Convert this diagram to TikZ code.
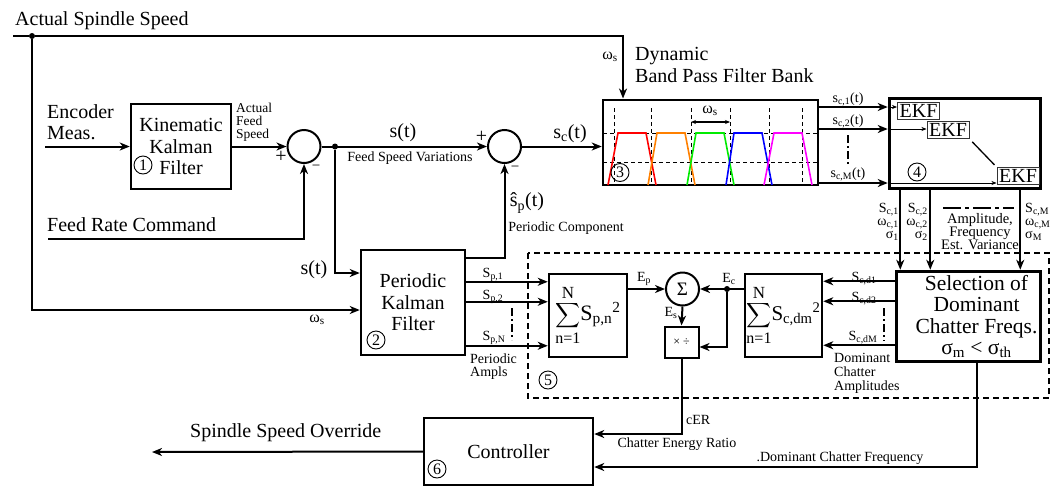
\documentclass[tikz,border=0pt]{standalone}
\usepackage{amsmath}
\usepackage{fontspec}
\setmainfont{Liberation Serif}
\usetikzlibrary{arrows.meta,calc}
\newcommand{\fsz}[1]{\fontsize{#1}{#1}\selectfont}
\newcommand{\lsz}[2]{\fontsize{#1}{#2}\selectfont}
\definecolor{bporange}{RGB}{255,128,0}
\definecolor{bpgreen}{RGB}{0,235,0}
\definecolor{bpmag}{RGB}{255,0,255}
\tikzset{
  ln/.style={line width=2pt},
  arr/.style={line width=2pt,-{Stealth[length=10pt,width=8pt,inset=3pt]}},
  tarr/.style={line width=0.7pt,-{Stealth[length=5pt,width=4pt,inset=1.5pt]}},
  blk/.style={draw,line width=2.5pt,inner sep=0pt,align=center},
  hblk/.style={draw,line width=3.5pt,inner sep=0pt,align=center},
  ekfs/.style={draw=black!80,line width=1pt,inner sep=0pt,minimum width=42pt,minimum height=17pt,font=\fsz{20}},
  sumc/.style={draw,circle,line width=2pt,minimum size=33pt,inner sep=0pt},
  cnum/.style={draw,circle,line width=0.9pt,minimum size=18pt,inner sep=0pt,font=\fsz{16}},
  big/.style={font=\lsz{20}{21.5},inner sep=0pt},
  sml/.style={font=\lsz{14}{13},inner sep=0pt},
  wsl/.style={font=\fsz{16},inner sep=0pt},
  dd/.style={line width=2pt,dash pattern=on 8pt off 3pt on 2pt off 3pt},
  ddleg/.style={line width=2pt,dash pattern=on 18pt off 4pt on 4pt off 4pt},
  fb/.style={line width=1.6pt},
  gridl/.style={line width=0.8pt,dash pattern=on 4pt off 3pt},
  jdot/.style={circle,fill,inner sep=0pt,minimum size=6pt},
}
\newcommand{\sumlim}{\fsz{17}$\displaystyle\sum_{\mbox{\fsz{16}n=1}}^{\mbox{\fsz{17}N}}$}
\begin{document}
\begin{tikzpicture}[x=1pt,y=-1pt]
\useasboundingbox (0,0) rectangle (1057,488);

% ---------- blocks ----------
\node[blk,minimum width=100pt,minimum height=85pt,font=\lsz{20}{21.5}] (kkf) at (181,146.5) {Kinematic\\Kalman\\Filter};
\node[cnum] (c1) at (143,165) {1};
\node[sumc] (sum1) at (304,146.5) {};
\node[sumc] (sum2) at (504.5,146.5) {};
\node[blk,minimum width=215pt,minimum height=85pt] (fbank) at (710.5,142.25) {};
\node[hblk,minimum width=151pt,minimum height=90pt] (ekfbox) at (965,143.5) {};
\node[ekfs] (ekf1) at (918.5,110.5) {EKF};
\node[ekfs] (ekf2) at (948,130) {EKF};
\node[ekfs] (ekf3) at (1018,176) {EKF};
\node[cnum] (c4) at (917,172) {4};
\node[blk,minimum width=104pt,minimum height=105pt,font=\lsz{20}{21.5}] (pkf) at (413,302.5) {Periodic\\Kalman\\Filter};
\node[cnum] (c2) at (376,340) {2};
\node[blk,minimum width=78pt,minimum height=83pt] (sumP) at (588,315.5)
  {\sumlim\fsz{22}S\textsubscript{p,n}\textsuperscript{2}};
\node[sumc,font=\fsz{19}] (sig) at (682.5,289) {Σ};
\node[blk,line width=2pt,minimum width=34pt,minimum height=31pt,font=\fsz{12}] (md) at (681.5,342) {× ÷};
\node[blk,minimum width=77pt,minimum height=83pt] (sumC) at (783.5,315.5)
  {\sumlim\fsz{21}S\textsubscript{c,dm}\textsuperscript{2}};
\node[hblk,minimum width=144pt,minimum height=90pt] (sel) at (968.5,316.5) {};
\node[font=\lsz{21.5}{21.5},align=center,inner sep=0pt] (seltxt) at (976.5,316.5) {Selection of\\Dominant\\Chatter Freqs.\\σ\textsubscript{m} < σ\textsubscript{th}};
\node[blk,minimum width=169pt,minimum height=67pt,font=\fsz{20}] (ctrl) at (508.5,451.5) {Controller};
\node[cnum] (c6) at (437,469) {6};
\draw[line width=1.2pt,dash pattern=on 6pt off 4pt] (528,253) rectangle (1049,398);
\node[cnum] (c5) at (548,380) {5};

% ---------- filter bank interior ----------
\foreach \xx in {614,651,691,730,769,802} \draw[gridl] (\xx,108) -- (\xx,185);
\draw[gridl] (603,133) -- (818,133);
\draw[gridl] (603,162) -- (818,162);
\draw[fb,red] (608,185) -- (618,133) -- (646,133) -- (656,185);
\draw[fb,bporange] (648,185) -- (657,133) -- (685,133) -- (695,185);
\draw[fb,bpgreen] (687,185) -- (696,133) -- (724,133) -- (734,185);
\draw[fb,blue] (726,185) -- (734,133) -- (762,133) -- (772,185);
\draw[fb,bpmag] (764,185) -- (774,133) -- (802,133) -- (812,185);
\draw[line width=1.2pt,{Stealth[length=5pt,width=4pt]}-{Stealth[length=5pt,width=4pt]}] (691,122) -- (730,122);
\node[wsl] (wsb) at (710,111) {ω\textsubscript{s}};
\node[cnum] (c3) at (620,172.5) {3};

% ---------- texts ----------
\node[big,anchor=base west] (tss) at (15,25.5) {Actual Spindle Speed};
\node[big,anchor=west,align=left] (tenc) at (47,122) {Encoder\\Meas.};
\node[font=\lsz{13.5}{13},inner sep=0pt,anchor=west,align=left] (tafs) at (236,122) {Actual\\Feed\\Speed};
\node[big] (p1) at (281,157) {+};
\node[font=\fsz{15},inner sep=0pt] (m1) at (316,168) {−};
\node[big] (p2) at (481.5,137) {+};
\node[font=\fsz{15},inner sep=0pt] (m2) at (515,169) {−};
\node[big] (tst) at (403,133) {s(t)};
\node[sml] (tfsv) at (410,158) {Feed Speed Variations};
\node[big,anchor=west] (tfrc) at (47,225) {Feed Rate Command};
\node[big] (tst2) at (314,270) {s(t)};
\node[wsl] (tws1) at (317,320) {ω\textsubscript{s}};
\node[big] (tsp) at (527,203) {ŝ\textsubscript{p}(t)};
\node[sml] (tpc) at (566,228) {Periodic Component};
\node[big] (tsc) at (570,134) {s\textsubscript{c}(t)};
\node[wsl] (tws2) at (610,57) {ω\textsubscript{s}};
\node[big,anchor=west,align=left] (tdyn) at (635,65) {Dynamic\\Band Pass Filter Bank};
\node[sml] (tsc1) at (848,99) {s\textsubscript{c,1}(t)};
\node[sml] (tsc2) at (848,121) {s\textsubscript{c,2}(t)};
\node[sml] (tscm) at (848,174) {s\textsubscript{c,M}(t)};
\draw[dd] (848,135) -- (848,166);
\node[font=\lsz{14}{13},inner sep=0pt,align=right,anchor=east] (te1) at (899,222) {S\textsubscript{c,1}\\ω\textsubscript{c,1}\\σ\textsubscript{1}};
\node[font=\lsz{14}{13},inner sep=0pt,align=right,anchor=east] (te2) at (928,222) {S\textsubscript{c,2}\\ω\textsubscript{c,2}\\σ\textsubscript{2}};
\node[font=\lsz{14}{13},inner sep=0pt,align=left,anchor=west] (te3) at (1025,222) {S\textsubscript{c,M}\\ω\textsubscript{c,M}\\σ\textsubscript{M}};
\draw[ddleg] (943,208) -- (1014,208);
\node[font=\lsz{14.5}{13},inner sep=0pt,align=center] (tleg) at (980,232) {Amplitude,\\Frequency\\Est. Variance};
\node[sml] (tsp1) at (493,275) {S\textsubscript{p,1}};
\node[sml] (tsp2) at (493,297) {S\textsubscript{p,2}};
\node[sml] (tspn) at (494,338) {S\textsubscript{p,N}};
\draw[dd] (512,308) -- (512,340);
\node[sml,align=left,anchor=west] (tpa) at (470,367) {Periodic\\Ampls};
\node[sml] (tep) at (644,279) {E\textsubscript{p}};
\node[sml] (tec) at (729,279) {E\textsubscript{c}};
\node[sml] (tes) at (671,313) {E\textsubscript{s}};
\node[sml] (tcd1) at (864,279) {S\textsubscript{c,d1}};
\node[sml] (tcd2) at (864,299) {S\textsubscript{c,d2}};
\node[sml] (tcdm) at (863,338) {S\textsubscript{c,dM}};
\draw[dd] (884,308) -- (884,341);
\node[font=\lsz{14}{14},inner sep=0pt,align=left,anchor=west] (tdca) at (834,373) {Dominant\\Chatter\\Amplitudes};
\node[sml,anchor=west] (tcer) at (686,420) {cER};
\node[sml] (tcern) at (677,444) {Chatter Energy Ratio};
\node[sml] (tdcf) at (840,458) {.Dominant Chatter Frequency};
\node[big,anchor=west] (tsso) at (190,433) {Spindle Speed Override};

% ---------- connectors ----------
\coordinate (ssin) at (13,36);
\coordinate (sstop) at (623,36);
\node[jdot] (d1) at (32,36) {};
\draw[ln] (ssin) -- (d1);
\draw[arr] (d1) -- (sstop) -- (sstop |- fbank.north);
\draw[arr] (d1) |- ($(pkf.west)+(0,7.5)$);
\coordinate (encin) at (45,146.5);
\draw[arr] (encin) -- (kkf.west);
\draw[arr] (kkf.east) -- (sum1.west);
\coordinate (frcin) at (48,239);
\draw[arr] (frcin) -| (sum1.south);
\node[jdot] (d2) at (335,146.5) {};
\draw[arr] (sum1.east) -- (sum2.west);
\draw[arr] (d2) |- ($(pkf.west)+(0,-29.5)$);
\draw[arr] ($(pkf.north east)+(0,9)$) -| (sum2.south);
\draw[arr] (sum2.east) -- (sum2 -| fbank.west);

\coordinate (o1) at ($(fbank.east)+(0,-35.25)$);
\coordinate (o2) at ($(fbank.east)+(0,-13.25)$);
\coordinate (o3) at ($(fbank.east)+(0,40.75)$);
\draw[arr] (o1) -- (o1 -| ekfbox.west);
\draw[arr] (o2) -- (o2 -| ekfbox.west);
\draw[arr] (o3) -- (o3 -| ekfbox.west);
\draw[tarr] (o1 -| ekfbox.west) -- (o1 -| ekf1.west);
\draw[tarr] (o2 -| ekfbox.west) -- (o2 -| ekf2.west);
\draw[tarr] (o3 -| ekfbox.west) -- (o3 -| ekf3.west);
\draw[line width=1.3pt,shorten <=4pt,shorten >=3pt] (ekf2.south east) -- (ekf3.north west);

\coordinate (e1) at ($(ekfbox.south west)+(12.5,0)$);
\coordinate (e2) at ($(ekfbox.south west)+(42.5,0)$);
\coordinate (e3) at ($(ekfbox.south west)+(132.5,0)$);
\draw[arr] (e1) -- (e1 |- sel.north);
\draw[arr] (e2) -- (e2 |- sel.north);
\draw[arr] (e3) -- (e3 |- sel.north);

\coordinate (q1) at ($(sel.north west)+(0,11.5)$);
\coordinate (q2) at ($(sel.north west)+(0,31.5)$);
\coordinate (q3) at ($(sel.north west)+(0,75.5)$);
\draw[arr] (q1) -- (q1 -| sumC.east);
\draw[arr] (q2) -- (q2 -| sumC.east);
\draw[arr] (q3) -- (q3 -| sumC.east);

\coordinate (r1) at ($(pkf.north east)+(0,33)$);
\coordinate (r2) at ($(pkf.north east)+(0,53)$);
\coordinate (r3) at ($(pkf.north east)+(0,97)$);
\draw[arr] (r1) -- (r1 -| sumP.west);
\draw[arr] (r2) -- (r2 -| sumP.west);
\draw[arr] (r3) -- (r3 -| sumP.west);

\draw[arr] (sumP.east |- sig) -- (sig.west);
\node[jdot] (d3) at (727,289) {};
\draw[arr] (sumC.west |- sig) -- (sig.east);
\draw[arr] (d3) |- ($(md.east)+(0,5)$);
\draw[arr] (sig.south) -- (md.north);
\draw[arr] (md.south) |- ($(ctrl.east)+(0,-17.5)$);
\draw[arr] ($(sel.south)+(8.5,0)$) |- ($(ctrl.east)+(0,15.5)$);
\coordinate (ovr) at (152,452);
\draw[arr] (ctrl.west) -- (ovr);
\end{tikzpicture}
\end{document}
